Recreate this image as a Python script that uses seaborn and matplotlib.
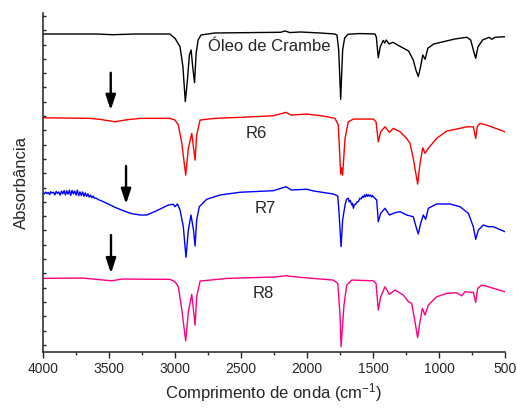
import matplotlib
matplotlib.use('Agg')
import matplotlib.pyplot as plt
import numpy as np
import pandas as pd
import seaborn as sns
from matplotlib.ticker import MultipleLocator, FixedLocator

# FTIR spectra, values (relative to each baseline, arbitrary units)
crambe_wn = [4000, 3600, 3470, 3300, 3040, 3015, 3000, 2962, 2940, 2922, 2906, 2891, 2878, 2866, 2852,
             2840, 2825, 2803, 2700, 2400, 2200, 2167, 2130, 2050, 1900, 1790, 1773, 1760, 1745, 1730,
             1715, 1690, 1600, 1485, 1475, 1460, 1445, 1422, 1410, 1400, 1378, 1349, 1300, 1258, 1230,
             1195, 1175, 1157, 1140, 1123, 1105, 1085, 1040, 967, 880, 790, 760, 740, 722, 705,
             670, 620, 600, 575, 500]
crambe_abs = [0.0, 0.0, -0.005, 0.0, 0.0, -0.019, -0.03, -0.089, -0.229, -0.473, -0.322, -0.147, -0.112, -0.229, -0.341,
              -0.135, -0.042, -0.007, 0.007, 0.01, 0.012, 0.021, 0.01, 0.014, 0.007, 0.0, -0.007, -0.112, -0.457, -0.112,
              -0.028, -0.002, 0.003, 0.0, -0.021, -0.166, -0.089, -0.045, -0.063, -0.042, -0.07, -0.058, -0.084, -0.105, -0.119,
              -0.182, -0.252, -0.298, -0.231, -0.147, -0.177, -0.1, -0.07, -0.054, -0.035, -0.023, -0.042, -0.112, -0.17, -0.091,
              -0.042, -0.023, -0.037, -0.023, -0.019]

r6_wn = [4000, 3644, 3568, 3455, 3366, 3265, 3038, 3000, 2975, 2950, 2919, 2899, 2873, 2848, 2836,
         2810, 2700, 2507, 2255, 2159, 2120, 2002, 1876, 1788, 1763, 1745, 1738, 1730, 1712, 1687,
         1649, 1498, 1477, 1460, 1442, 1409, 1376, 1346, 1295, 1245, 1220, 1195, 1162, 1144, 1123,
         1106, 1081, 1018, 942, 866, 790, 740, 722, 710, 690, 639, 500]
r6_abs = [0.0, -0.004, -0.011, -0.028, -0.014, -0.004, -0.004, -0.016, -0.051, -0.168, -0.401, -0.214, -0.109, -0.296, -0.121,
          -0.016, -0.004, 0.003, 0.014, 0.038, 0.019, 0.026, 0.012, -0.004, -0.051, -0.394, -0.35, -0.401, -0.144, -0.028,
          -0.009, -0.009, -0.028, -0.168, -0.098, -0.063, -0.102, -0.074, -0.098, -0.144, -0.179, -0.284, -0.464, -0.319, -0.21,
          -0.249, -0.214, -0.144, -0.093, -0.079, -0.063, -0.063, -0.144, -0.063, -0.039, -0.051, -0.098]

r7_wn = [4000, 3990, 3980, 3970, 3960, 3950, 3940, 3930, 3920, 3910, 3900, 3890, 3880, 3870, 3860,
         3850, 3840, 3830, 3820, 3810, 3800, 3790, 3780, 3770, 3760, 3750, 3740, 3730, 3720, 3710,
         3700, 3690, 3680, 3670, 3660, 3650, 3640, 3630, 3620, 3610, 3600,
         3580, 3560, 3540, 3517, 3450, 3392, 3330, 3265, 3214, 3139, 3050, 3013, 3000, 2982,
         2962, 2937, 2917, 2899, 2879, 2860, 2848, 2836, 2816, 2760, 2659, 2507, 2255, 2159, 2120,
         2002, 1950, 1801, 1767, 1757, 1742, 1730, 1712, 1700, 1687, 1680, 1672, 1661, 1655, 1649,
         1640, 1630, 1620, 1611, 1600, 1590, 1580, 1573, 1565, 1558, 1550, 1542, 1535, 1528, 1520,
         1512, 1505, 1498, 1472, 1460, 1442, 1409, 1376, 1333, 1295, 1245, 1195, 1174, 1157, 1139,
         1119, 1101, 1081, 1018, 917, 841, 778, 740, 722, 702, 664, 626, 589, 500]
r7_abs = [0.004, -0.004, 0.008, -0.002, 0.006, -0.009, 0.011, 0.001, 0.007, -0.011, 0.013, -0.002, 0.009, -0.013, 0.015,
          -0.004, 0.019, -0.012, 0.017, -0.006, 0.021, -0.015, 0.020, -0.004, 0.016, -0.013, 0.022, -0.017, 0.010, -0.016,
          0.009, -0.021, 0.003, -0.022, -0.004, -0.027, -0.012, -0.031, -0.020, -0.035, -0.033,
          -0.045, -0.052, -0.06, -0.07, -0.1, -0.122, -0.142, -0.152, -0.152, -0.122, -0.082, -0.077, -0.094, -0.075,
          -0.117, -0.234, -0.448, -0.257, -0.152, -0.257, -0.369, -0.187, -0.094, -0.042, -0.012, 0.007, 0.018, 0.046, 0.023,
          0.028, 0.016, -0.005, -0.019, -0.14, -0.373, -0.187, -0.082, -0.04, -0.035, -0.06, -0.05, -0.082, -0.07, -0.105,
          -0.08, -0.075, -0.06, -0.059, -0.035, -0.04, -0.02, -0.03, -0.012, -0.025, -0.008, -0.022, -0.01, -0.02, -0.012,
          -0.026, -0.015, -0.024, -0.047, -0.199, -0.14, -0.105, -0.152, -0.136, -0.129, -0.152, -0.164, -0.234, -0.285, -0.21,
          -0.152, -0.182, -0.105, -0.075, -0.075, -0.094, -0.14, -0.234, -0.322, -0.257, -0.222, -0.234, -0.234, -0.269]

r8_wn = [4000, 3700, 3480, 3400, 3038, 3000, 2975, 2950, 2919, 2899, 2873, 2848, 2836, 2810, 2600,
         2255, 2159, 2050, 1801, 1767, 1750, 1742, 1720, 1699, 1661, 1498, 1477, 1460, 1442, 1409,
         1376, 1333, 1270, 1232, 1207, 1182, 1162, 1144, 1126, 1106, 1081, 1018, 942, 866, 828,
         803, 740, 722, 707, 677, 626, 500]
r8_abs = [0.0, 0.002, -0.017, -0.005, -0.007, -0.024, -0.059, -0.21, -0.438, -0.234, -0.112, -0.327, -0.129, -0.019, 0.0,
          0.009, 0.018, 0.007, -0.012, -0.035, -0.257, -0.478, -0.187, -0.047, -0.012, -0.017, -0.035, -0.222, -0.129, -0.059,
          -0.112, -0.082, -0.117, -0.164, -0.175, -0.303, -0.415, -0.303, -0.21, -0.257, -0.187, -0.129, -0.105, -0.101, -0.122,
          -0.094, -0.098, -0.168, -0.07, -0.047, -0.059, -0.094]

samples = ['Óleo de Crambe', 'R6', 'R7', 'R8']
offsets = [2.224, 1.638, 1.11, 0.515]
colors = ['black', '#ff0000', '#0000ff', '#ff0080']

# arrows marking the O-H region
arrow_wn = [3487, 3371, 3485]
arrow_top = [1.953, 1.301, 0.818]
arrow_tip = [1.692, 1.035, 0.55]

# sample labels
label_wn = [2283, 2381, 2313, 2331]
label_y = [2.135, 1.529, 1.005, 0.41]

sns.set_style('ticks')
plt.rcParams['font.family'] = ['Liberation Sans', 'DejaVu Sans']
plt.rcParams['mathtext.default'] = 'regular'

fig = plt.figure(figsize=(5.17, 4.08), dpi=100)
ax = fig.add_axes([0.0832, 0.1373, 0.8936, 0.8309])

spectra = [(crambe_wn, crambe_abs), (r6_wn, r6_abs), (r7_wn, r7_abs), (r8_wn, r8_abs)]
for (wn, ab), off, col in zip(spectra, offsets, colors):
    df = pd.DataFrame({'wn': wn, 'abs': np.array(ab) + off})
    sns.lineplot(data=df, x='wn', y='abs', color=col, lw=1.0, ax=ax)

for x, y0, y1 in zip(arrow_wn, arrow_top, arrow_tip):
    ax.annotate('', xy=(x, y1), xytext=(x, y0),
                arrowprops=dict(arrowstyle='-|>,head_length=0.6,head_width=0.2', color='black',
                                lw=1.7, mutation_scale=15, shrinkA=0, shrinkB=0))

for name, x, y in zip(samples, label_wn, label_y):
    ax.text(x, y, name, ha='center', va='center', fontsize=12)

ax.set_xlim(4000, 500)
ax.set_ylim(0, 2.371)
ax.xaxis.set_major_locator(MultipleLocator(500))
ax.xaxis.set_minor_locator(MultipleLocator(250))
ax.yaxis.set_major_locator(FixedLocator(np.arange(0.05, 2.37, 0.1)))
ax.tick_params(axis='x', which='major', direction='out', length=4, width=1, labelsize=10, pad=3)
ax.tick_params(axis='x', which='minor', direction='out', length=2.5, width=1)
ax.tick_params(axis='y', which='both', direction='in', length=2, width=1, left=True, labelleft=False)
sns.despine(ax=ax)
for s in ['left', 'bottom']:
    ax.spines[s].set_linewidth(1.1)
    ax.spines[s].set_color('#222222')

ax.set_xlabel('Comprimento de onda (cm$^{-1}$)', fontsize=12, labelpad=4)
ax.set_ylabel('Absorbância', fontsize=12, labelpad=10)

fig.savefig('out.png', dpi=100)
